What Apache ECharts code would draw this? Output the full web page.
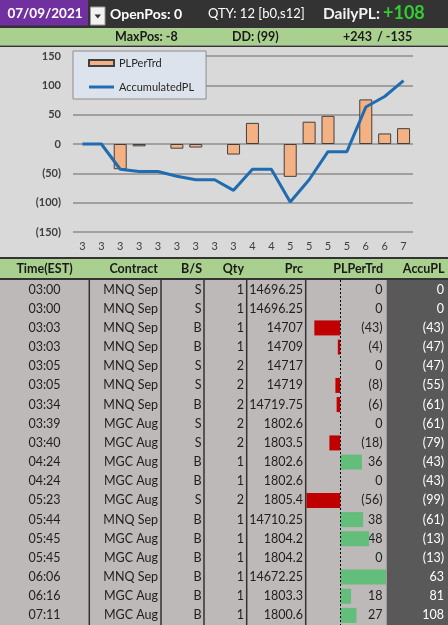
<!DOCTYPE html>
<html>
<head>
<meta charset="utf-8">
<script src="https://cdn.jsdelivr.net/npm/echarts@6/dist/echarts.min.js"></script>
<style>
html, body { margin: 0; padding: 0; background: #fff; }
#main { width: 448px; height: 625px; }
</style>
</head>
<body>
<div id="main"></div>
<script>
// header values
var tradeDate = '07/09/2021';
var openPos = 0;
var qtyText = '12 [b0,s12]';
var dailyPL = '+108';
var maxPos = -8;
var drawDown = '(99)';
var bestTrd = '+243';
var worstTrd = '-135';

// chart + table data
var hours = ['3','3','3','3','3','3','3','3','3','4','4','5','5','5','5','6','6','7'];
var plPerTrd = [0, 0, -43, -4, 0, -8, -6, 0, -18, 36, 0, -56, 38, 48, 0, 76, 18, 27];
var accuPL = [0, 0, -43, -47, -47, -55, -61, -61, -79, -43, -43, -99, -61, -13, -13, 63, 81, 108];
var yTicks = [-150, -100, -50, 0, 50, 100, 150];

var times = ['03:00','03:00','03:03','03:03','03:05','03:05','03:34','03:39','03:40','04:24','04:24','05:23','05:44','05:45','05:45','06:06','06:16','07:11'];
var contracts = ['MNQ Sep','MNQ Sep','MNQ Sep','MNQ Sep','MNQ Sep','MNQ Sep','MNQ Sep','MGC Aug','MGC Aug','MGC Aug','MGC Aug','MGC Aug','MNQ Sep','MGC Aug','MGC Aug','MNQ Sep','MGC Aug','MGC Aug'];
var sides = ['S','S','B','B','S','S','B','S','S','B','B','S','B','B','B','B','B','B'];
var qtys = ['1','1','1','1','2','2','2','2','2','1','1','2','1','1','1','1','1','1'];
var prices = ['14696.25','14696.25','14707','14709','14717','14719','14719.75','1802.6','1803.5','1802.6','1802.6','1805.4','14710.25','1804.2','1804.2','14672.25','1803.3','1800.6'];

var headers = ['Time(EST)', 'Contract', 'B/S', 'Qty', 'Prc', 'PLPerTrd', 'AccuPL'];

function paren(v) {
    v = Number(v);
    return v < 0 ? '(' + (-v) + ')' : '' + v;
}

var FONT = 'Lato';
var chart = echarts.init(document.getElementById('main'));

// column layout of the table
var tblTop = 280, tblBottom = 625;
var sepX = [89.3, 161, 204, 246.7, 305.7];

var graphics = [
    { type: 'rect', shape: { x: 0, y: 0, width: 448, height: 28 }, style: { fill: '#333333' } },
    { type: 'rect', shape: { x: 0, y: 0, width: 88, height: 25.5 }, style: { fill: '#7030a0' } },
    { type: 'rect', shape: { x: 90.5, y: 7, width: 14.5, height: 18 }, style: { fill: '#f2f2f2', stroke: '#9a9a9a', lineWidth: 1 } },
    { type: 'polygon', shape: { points: [[94.5, 14.5], [101, 14.5], [97.75, 18.5]] }, style: { fill: '#333' } },
    { type: 'rect', shape: { x: 0, y: 28, width: 448, height: 17.5 }, style: { fill: '#a9d08e' } },
    { type: 'rect', shape: { x: 0, y: 45.5, width: 448, height: 1.5 }, style: { fill: '#333' } },
    { type: 'rect', shape: { x: 0, y: 47, width: 448, height: 210 }, style: { fill: '#d9d9d9' } },
    { type: 'rect', shape: { x: 0, y: 257, width: 448, height: 2 }, style: { fill: '#333' } },
    { type: 'rect', shape: { x: 0, y: 259, width: 448, height: 19 }, style: { fill: '#a9d08e' } },
    { type: 'rect', shape: { x: 0, y: 278, width: 448, height: 2 }, style: { fill: '#333' } },
    { type: 'rect', shape: { x: 0, y: tblTop, width: 448, height: tblBottom - tblTop }, style: { fill: '#bdb9b8' } },
    { type: 'rect', shape: { x: 386.7, y: tblTop, width: 62, height: tblBottom - tblTop }, style: { fill: '#595959' } },

    { type: 'text', x: 45, y: 13.5, style: { text: tradeDate, fill: '#fff', font: 'bold 13.5px ' + FONT, textAlign: 'center', textVerticalAlign: 'middle' } },
    { type: 'text', x: 110, y: 14, style: { text: 'OpenPos: ' + openPos, fill: '#fff', font: 'bold 14px ' + FONT, textVerticalAlign: 'middle' } },
    { type: 'text', x: 208, y: 14, style: { text: 'QTY: ' + qtyText, fill: '#fff', font: '13px ' + FONT, textVerticalAlign: 'middle' } },
    { type: 'text', x: 323, y: 14, style: { text: 'DailyPL:', fill: '#f2f2f2', font: 'bold 15.5px ' + FONT, textVerticalAlign: 'middle' } },
    { type: 'text', x: 383, y: 13.5, style: { text: dailyPL, fill: '#33cc33', font: 'bold 18px ' + FONT, textVerticalAlign: 'middle' } },

    { type: 'text', x: 115, y: 37, style: { text: 'MaxPos: ' + maxPos, fill: '#1a1a1a', font: 'bold 12.5px ' + FONT, textVerticalAlign: 'middle' } },
    { type: 'text', x: 232, y: 37, style: { text: 'DD: ' + drawDown, fill: '#1a1a1a', font: 'bold 12.5px ' + FONT, textVerticalAlign: 'middle' } },
    { type: 'text', x: 343, y: 37, style: { text: bestTrd, fill: '#1a1a1a', font: 'bold 12.5px ' + FONT, textVerticalAlign: 'middle' } },
    { type: 'text', x: 377, y: 37, style: { text: '/ ' + worstTrd, fill: '#1a1a1a', font: 'bold 12.5px ' + FONT, textVerticalAlign: 'middle' } }
];

sepX.forEach(function(x) {
    graphics.push({ type: 'line', shape: { x1: x, y1: tblTop, x2: x, y2: tblBottom }, style: { stroke: '#333', lineWidth: 1.5 } });
});

// table header labels (x, align)
var hdrPos = [[44.5, 'center'], [158, 'right'], [202, 'right'], [244, 'right'], [303, 'right'], [383, 'right'], [444.5, 'right']];
headers.forEach(function(h, i) {
    graphics.push({ type: 'text', x: hdrPos[i][0], y: 268.5, style: { text: h, fill: '#1a1a1a', font: 'bold 12.5px ' + FONT, textAlign: hdrPos[i][1], textVerticalAlign: 'middle' } });
});

function colAxis(data, position, offset, align, color, fmt) {
    return {
        type: 'category',
        gridIndex: 1,
        position: position,
        offset: offset,
        inverse: true,
        data: data,
        axisLine: { show: false },
        axisTick: { show: false },
        splitLine: { show: false },
        axisLabel: {
            interval: 0,
            margin: 0,
            align: align,
            color: color,
            fontFamily: FONT,
            fontSize: 12.5,
            formatter: fmt
        }
    };
}

var option = {
    animation: false,
    backgroundColor: '#ffffff',
    graphic: graphics,
    legend: {
        left: 73,
        top: 51,
        orient: 'vertical',
        backgroundColor: '#dde3ec',
        borderColor: '#8c8c8c',
        borderWidth: 1,
        borderRadius: 0,
        padding: [5, 12, 5, 15],
        itemGap: 10,
        itemWidth: 25,
        itemHeight: 6,
        textStyle: { fontFamily: FONT, fontSize: 11, color: '#262626', lineHeight: 14 },
        data: [
            { name: 'PLPerTrd', icon: 'rect' },
            { name: 'AccumulatedPL', icon: 'path://M0,0h25v3h-25z' }
        ]
    },
    grid: [
        { left: 73, width: 340, top: 56, height: 176, outerBoundsMode: 'none' },
        { left: 306.5, right: 62, top: tblTop, bottom: 0, outerBoundsMode: 'none' }
    ],
    xAxis: [
        {
            type: 'category',
            gridIndex: 0,
            data: hours,
            axisLine: { show: false, onZero: false },
            axisTick: { show: false },
            axisLabel: { interval: 0, color: '#404040', fontFamily: FONT, fontSize: 11, margin: 9 }
        },
        {
            type: 'value',
            gridIndex: 1,
            min: Math.min.apply(null, plPerTrd),
            max: Math.max.apply(null, plPerTrd),
            show: false
        }
    ],
    yAxis: [
        {
            type: 'value',
            gridIndex: 0,
            min: yTicks[0],
            max: yTicks[yTicks.length - 1],
            interval: yTicks[1] - yTicks[0],
            axisLine: { show: false },
            axisTick: { show: false },
            splitLine: { lineStyle: { color: '#8c8c8c', width: 1.5 } },
            axisLabel: { color: '#404040', fontFamily: FONT, fontSize: 11, fontWeight: 'bold', margin: 12, formatter: paren }
        },
        colAxis(times, 'left', 262, 'center', '#1e1e1e'),
        colAxis(contracts, 'left', 148.5, 'right', '#1e1e1e'),
        colAxis(sides, 'left', 105, 'right', '#1e1e1e'),
        colAxis(qtys, 'left', 62.5, 'right', '#1e1e1e'),
        colAxis(prices, 'left', 3.5, 'right', '#1e1e1e'),
        colAxis(plPerTrd.map(String), 'right', -3.5, 'right', '#1e1e1e', paren),
        colAxis(accuPL.map(String), 'right', 58, 'right', '#ffffff', paren)
    ],
    series: [
        {
            name: 'PLPerTrd',
            type: 'bar',
            xAxisIndex: 0,
            yAxisIndex: 0,
            // zero-height trades draw nothing (no border stub)
            data: plPerTrd.map(function(v) {
                return v === 0 ? { value: 0, itemStyle: { borderWidth: 0 } } : v;
            }),
            barWidth: 13,
            itemStyle: { color: '#f4b183', borderColor: '#404040', borderWidth: 1 }
        },
        {
            name: 'AccumulatedPL',
            type: 'line',
            xAxisIndex: 0,
            yAxisIndex: 0,
            data: accuPL,
            symbol: 'none',
            lineStyle: { color: '#1f6cb0', width: 3 },
            itemStyle: { color: '#1f6cb0' },
            z: 5
        },
        {
            name: 'dataBars',
            type: 'bar',
            xAxisIndex: 1,
            yAxisIndex: 6,
            data: plPerTrd,
            barWidth: 15,
            itemStyle: {
                color: function(p) { return p.value < 0 ? '#c00000' : '#63be7b'; }
            },
            markLine: {
                silent: true,
                symbol: 'none',
                label: { show: false },
                lineStyle: { color: '#000', type: [2, 2], width: 1 },
                data: [{ xAxis: 0 }]
            }
        }
    ]
};

chart.setOption(option);
</script>
</body>
</html>
